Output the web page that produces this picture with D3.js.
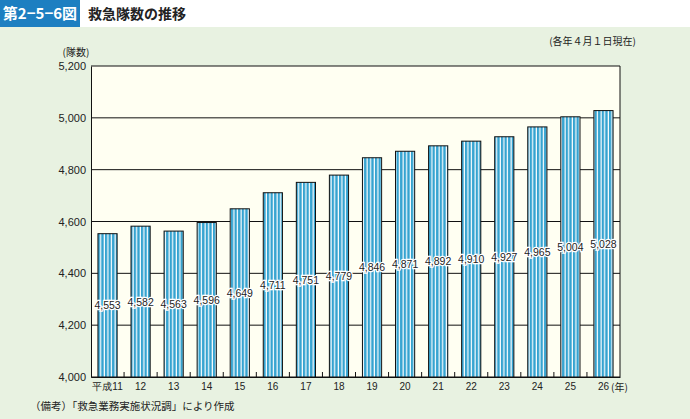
<!DOCTYPE html>
<html><head><meta charset="utf-8">
<script src="https://cdn.jsdelivr.net/npm/d3@7"></script>
<style>body{margin:0;background:#e8f2e1;}svg{display:block;font-family:"Noto Sans CJK JP","Noto Sans",sans-serif;}</style>
</head><body>
<svg id="c" width="690" height="419"></svg>
<script>
const categories = ["平成11","12","13","14","15","16","17","18","19","20","21","22","23","24","25","26"];
const values = [4553,4582,4563,4596,4649,4711,4751,4779,4846,4871,4892,4910,4927,4965,5004,5028];
const valueLabels = ["4,553","4,582","4,563","4,596","4,649","4,711","4,751","4,779","4,846","4,871","4,892","4,910","4,927","4,965","5,004","5,028"];
const yTicks = [4000,4200,4400,4600,4800,5000,5200];

const svg = d3.select("#c");
svg.append("rect").attr("x",0).attr("y",0).attr("width",690).attr("height",419).attr("fill","#e8f2e1");
svg.append("rect").attr("x",0).attr("y",0).attr("width",690).attr("height",27).attr("fill","#ffffff");
svg.append("rect").attr("x",0).attr("y",0).attr("width",80).attr("height",27).attr("fill","#1d7fc1");
svg.append("text").attr("x",40).attr("y",19).attr("text-anchor","middle").attr("fill","#fff")
  .attr("font-size",15).attr("font-weight","bold").text("第2−5−6図");
svg.append("text").attr("x",88).attr("y",19).attr("fill","#222")
  .attr("font-size",14).attr("font-weight","bold").text("救急隊数の推移");

const defs = svg.append("defs");
const pat = defs.append("pattern").attr("id","stripe").attr("patternUnits","userSpaceOnUse")
  .attr("width",3.6).attr("height",10).attr("x",0.5);
pat.append("rect").attr("width",3.6).attr("height",10).attr("fill","#35a3d0");
pat.append("rect").attr("x",2.4).attr("width",1.2).attr("height",10).attr("fill","#ffffff");

const L=91, R=620, T=66, B=377;
svg.append("rect").attr("x",L).attr("y",T).attr("width",R-L).attr("height",B-T).attr("fill","#fffff2");

const x = d3.scaleBand().domain(categories).range([L,R]).paddingInner(0.42).paddingOuter(0.21);
const y = d3.scaleLinear().domain([4000,5200]).range([B,T]);

// grid
svg.append("g").selectAll("line").data(yTicks).join("line")
  .attr("x1",L).attr("x2",R).attr("y1",d=>y(d)).attr("y2",d=>y(d))
  .attr("stroke","#111").attr("stroke-width",1);

// y axis
const ya = svg.append("g").attr("transform",`translate(${L},0)`)
  .call(d3.axisLeft(y).tickValues(yTicks).tickSize(0).tickPadding(5).tickFormat(d3.format(",")));
ya.select(".domain").attr("stroke","#111");
ya.selectAll("text").attr("font-size",11).attr("fill","#222").attr("font-family","Liberation Sans Narrow,Liberation Sans,sans-serif");

// bars
svg.append("g").selectAll("rect").data(values).join("rect")
  .attr("x",(d,i)=>x(categories[i])).attr("width",x.bandwidth())
  .attr("y",d=>y(d)).attr("height",d=>B-y(d))
  .attr("fill","url(#stripe)").attr("stroke","#111").attr("stroke-width",1);

// right border
svg.append("line").attr("x1",R).attr("x2",R).attr("y1",T).attr("y2",B).attr("stroke","#111");

// x axis
const xa = svg.append("g").attr("transform",`translate(0,${B})`)
  .call(d3.axisBottom(x).tickSize(0).tickPadding(6));
xa.select(".domain").attr("stroke","#111");
xa.selectAll("text").attr("font-size",10).attr("fill","#222");
const bounds = categories.slice(1).map(c=>x(c)-x.step()*x.paddingInner()/2);
svg.append("g").selectAll("line").data(bounds).join("line")
  .attr("x1",d=>d).attr("x2",d=>d).attr("y1",B).attr("y2",B-5).attr("stroke","#111");

// value labels
svg.append("g").selectAll("text").data(values).join("text")
  .attr("x",(d,i)=>x(categories[i])+x.bandwidth()/2)
  .attr("y",d=>(y(d)+B)/2+4)
  .attr("text-anchor","middle").attr("font-size",10.5).attr("fill","#222")
  .attr("font-family","Liberation Sans Narrow,Liberation Sans,sans-serif")
  .attr("stroke","#fff").attr("stroke-width",2.5).attr("paint-order","stroke")
  .text((d,i)=>valueLabels[i]);

svg.append("text").attr("x",611).attr("y",391).attr("font-size",10).attr("fill","#222").text("(年)");
svg.append("text").attr("x",76).attr("y",56).attr("text-anchor","middle").attr("font-size",10).attr("fill","#222").text("(隊数)");
svg.append("text").attr("x",636).attr("y",45).attr("text-anchor","end").attr("font-size",10).attr("fill","#222").text("(各年４月１日現在)");
svg.append("text").attr("x",30).attr("y",410).attr("font-size",10.5).attr("fill","#222").text("（備考）「救急業務実施状況調」により作成");
</script>
</body></html>
